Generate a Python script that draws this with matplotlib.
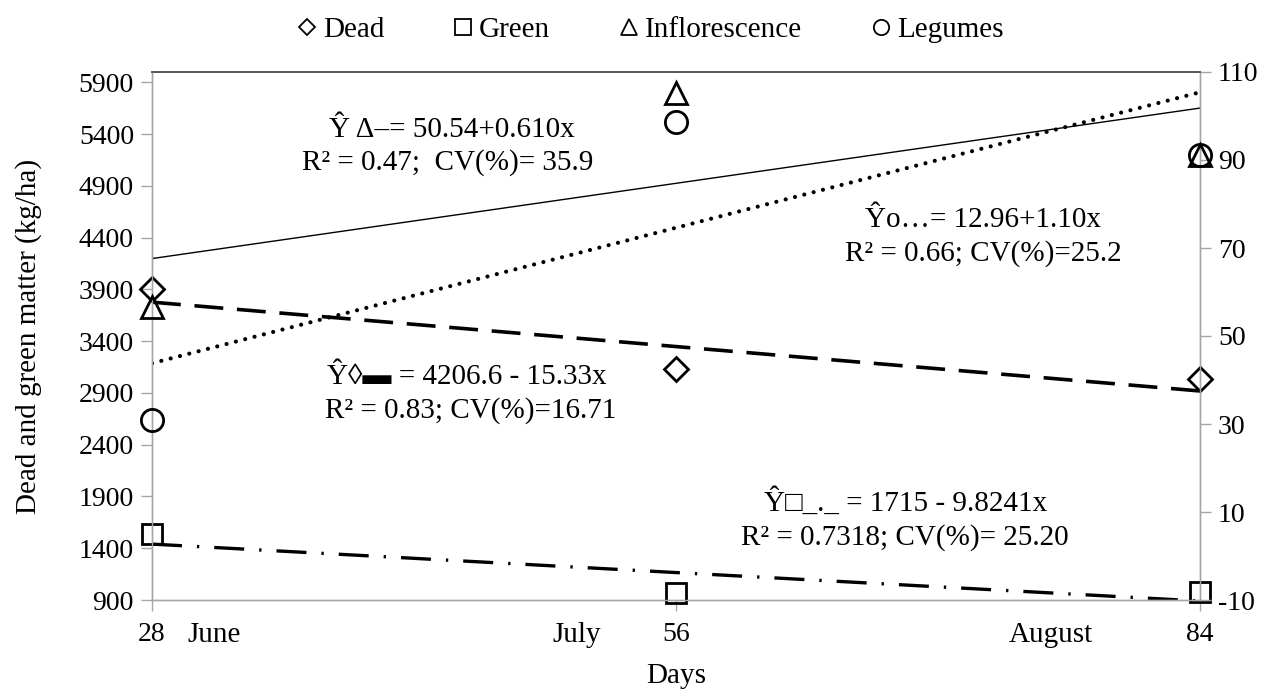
import matplotlib
matplotlib.use("Agg")
import matplotlib.pyplot as plt
from matplotlib.lines import Line2D

plt.rcParams['font.family'] = ['Liberation Serif', 'DejaVu Sans']
plt.rcParams['axes.unicode_minus'] = False

# ---- data ----
days = [28, 56, 84]
dead = [3900, 3128, 3035]            # left axis (kg/ha)
green = [1535, 970, 980]             # left axis (kg/ha)
inflorescence = [56.6, 105.2, 91.1]  # right axis
legumes = [30.8, 98.6, 91.1]         # right axis

trend_days = [28, 84]
trend_dead = [3777, 2919]
trend_green = [1440, 890]
trend_infl = [67.6, 101.8]
trend_leg = [43.8, 105.4]

left_ticks = [900, 1400, 1900, 2400, 2900, 3400, 3900, 4400, 4900, 5400, 5900]
right_ticks = [-10, 10, 30, 50, 70, 90, 110]
x_ticks = [28, 56, 84]
month_labels = ["June", "July", "August"]
month_pos = [31.3, 50.7, 76.0]

FS = 21
TFS = 20
fig = plt.figure(figsize=(12.7, 6.89), dpi=100)
ax = fig.add_axes([152/1270, 1-600/689, 1048/1270, 528/689])
ax2 = ax.twinx()

# trend lines
ax.plot(trend_days, trend_dead, color='black', lw=2.6,
        linestyle=(0, (8, 3.8)), dash_capstyle='butt', zorder=2)
ax.plot(trend_days, trend_green, color='black', lw=2.4,
        linestyle=(0, (9, 4.5, 0.7, 4.5)), dash_capstyle='butt', zorder=2)
ax2.plot(trend_days, trend_infl, color='black', lw=1.0, zorder=2)
ax2.plot(trend_days, trend_leg, color='black', lw=3.0,
         linestyle=(0, (0.01, 2.3)), dash_capstyle='round', zorder=2)

mk = dict(markerfacecolor='none', markeredgecolor='black', markeredgewidth=2.0,
          linestyle='none', clip_on=False, zorder=5)
ax.plot(days, dead, marker='D', markersize=12, **mk)
ax.plot(days, green, marker='s', markersize=15, **mk)
ax2.plot(days, inflorescence, marker='^', markersize=16, **mk)
ax2.plot(days, legumes, marker='o', markersize=16, **mk)

ax.set_xlim(28, 84)
ax.set_ylim(900, 6000)
ax2.set_ylim(-10, 110)
ax.set_xticks(x_ticks)
ax.set_yticks(left_ticks)
ax2.set_yticks(right_ticks)

for a in (ax, ax2):
    for s in ('left', 'right', 'bottom'):
        a.spines[s].set_color('#a6a6a6')
        a.spines[s].set_linewidth(1.0)
    a.spines['top'].set_color('#595959')
    a.spines['top'].set_linewidth(1.3)
    a.tick_params(axis='both', direction='out', length=8, width=1.0,
                  color='#a6a6a6', labelsize=TFS, labelcolor='black', pad=5)
ax.tick_params(axis='x', pad=8)

ax.set_ylabel("Dead and green matter (kg/ha)", fontsize=FS)
ax.yaxis.set_label_coords((42 - 152) / 1048, 0.5)
ax.set_xlabel("Days", fontsize=FS)
ax.xaxis.set_label_coords(0.5, -(663 - 600) / 528)

for m, xp in zip(month_labels, month_pos):
    ax.text(xp, -(635 - 600) / 528, m, transform=ax.get_xaxis_transform(),
            ha='center', va='center', fontsize=FS)

# annotations
def ann(xc, yc, s):
    fig.text(xc/1270, 1-yc/689, s, ha='center', va='center', fontsize=FS)

ann(452, 130, "Ŷ Δ–= 50.54+0.610x")
ann(448, 163, "R² = 0.47;  CV(%)= 35.9")
ann(983, 220, "Ŷo…= 12.96+1.10x")
ann(983, 254, "R² = 0.66; CV(%)=25.2")
ann(467, 377, "Ŷ◊▬ = 4206.6 - 15.33x")
ann(471, 411, "R² = 0.83; CV(%)=16.71")
ann(906, 503, "Ŷ□_._ = 1715 - 9.8241x")
ann(905, 538, "R² = 0.7318; CV(%)= 25.20")

# legend
lk = dict(markerfacecolor='none', markeredgecolor='black', markeredgewidth=1.3,
          linestyle='none')
handles = [Line2D([], [], marker='D', markersize=8, **lk),
           Line2D([], [], marker='s', markersize=11, **lk),
           Line2D([], [], marker='^', markersize=11, **lk),
           Line2D([], [], marker='o', markersize=11, **lk)]
fig.legend(handles, ["Dead", "Green", "Inflorescence", "Legumes"],
           loc='center', bbox_to_anchor=(648/1270, 1-30/689), ncol=4,
           frameon=False, fontsize=FS, handletextpad=0.05, columnspacing=2.2,
           handlelength=1.0)

fig.savefig("out.png", dpi=100)
